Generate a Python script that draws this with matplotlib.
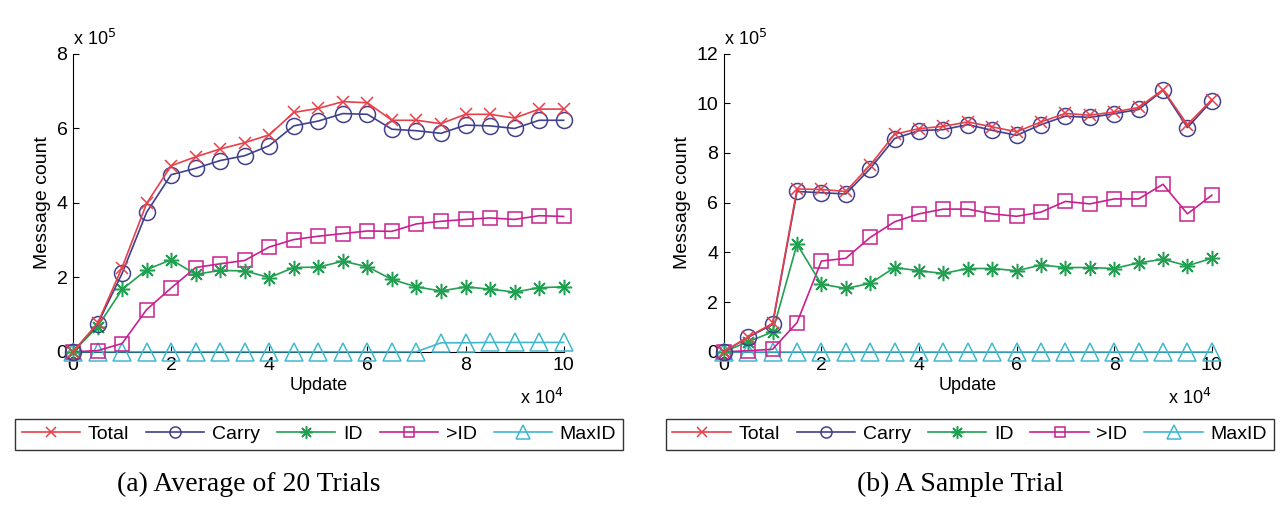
import numpy as np
import matplotlib
matplotlib.use("Agg")
import matplotlib.pyplot as plt

plt.rcParams['font.family'] = ['Liberation Sans', 'DejaVu Sans']

updates = np.arange(0, 10.5, 0.5)  # x 10^4
names = ["Total", "Carry", "ID", ">ID", "MaxID"]

# (a) average of 20 trials, x 10^5
avg_total = [0, 0.76, 2.26, 3.98, 4.99, 5.23, 5.44, 5.61, 5.82, 6.42, 6.53,
             6.71, 6.68, 6.21, 6.21, 6.12, 6.37, 6.37, 6.27, 6.51, 6.51]
avg_carry = [0, 0.74, 2.10, 3.74, 4.75, 4.92, 5.13, 5.26, 5.53, 6.06, 6.19,
             6.39, 6.37, 5.97, 5.93, 5.86, 6.08, 6.06, 5.99, 6.21, 6.21]
avg_id = [0, 0.67, 1.67, 2.20, 2.47, 2.08, 2.18, 2.17, 1.99, 2.26, 2.27,
          2.43, 2.28, 1.94, 1.74, 1.63, 1.74, 1.68, 1.60, 1.72, 1.74]
avg_gtid = [0, 0.03, 0.22, 1.13, 1.71, 2.26, 2.36, 2.45, 2.81, 3.01, 3.10,
            3.17, 3.24, 3.23, 3.43, 3.50, 3.55, 3.59, 3.55, 3.65, 3.63]
avg_maxid = [0, 0, 0, 0, 0, 0, 0, 0, 0, 0, 0,
             0, 0, 0, 0, 0.24, 0.24, 0.25, 0.25, 0.25, 0.25]

# (b) a sample trial, x 10^5
smp_total = [0, 0.60, 1.14, 6.55, 6.53, 6.45, 7.51, 8.75, 8.98, 9.07, 9.25,
             9.05, 8.85, 9.25, 9.59, 9.52, 9.65, 9.83, 10.55, 9.14, 10.15]
smp_carry = [0, 0.58, 1.10, 6.45, 6.40, 6.35, 7.37, 8.58, 8.90, 8.94, 9.14,
             8.91, 8.71, 9.14, 9.48, 9.43, 9.58, 9.75, 10.52, 9.02, 10.10]
smp_id = [0, 0.40, 0.80, 4.33, 2.72, 2.55, 2.75, 3.39, 3.26, 3.15, 3.35,
          3.35, 3.26, 3.49, 3.39, 3.39, 3.35, 3.58, 3.72, 3.46, 3.76]
smp_gtid = [0, 0.04, 0.10, 1.17, 3.65, 3.76, 4.60, 5.23, 5.55, 5.74, 5.74,
            5.55, 5.45, 5.62, 6.05, 5.95, 6.15, 6.15, 6.74, 5.55, 6.30]
smp_maxid = [0] * 21

colors = ["#e8404a", "#40408e", "#20a050", "#c8208e", "#40b8d0"]
markers = ["x", "o", (8, 2, 0), "s", "^"]
msizes = [8, 11.5, 11, 10, 13]
legend_ms = [7, 8, 9, 7, 10]

fig = plt.figure(figsize=(12.81, 5.15), dpi=100)
ax1 = fig.add_axes([0.057, 0.317, 0.383, 0.579])
ax2 = fig.add_axes([0.565, 0.317, 0.381, 0.579])

panels = [
    (ax1, [avg_total, avg_carry, avg_id, avg_gtid, avg_maxid], 8, [0, 2, 4, 6, 8],
     "(a) Average of 20 Trials", 0.0, 0.194),
    (ax2, [smp_total, smp_carry, smp_id, smp_gtid, smp_maxid], 12, [0, 2, 4, 6, 8, 10, 12],
     "(b) A Sample Trial", 0.508, 0.750),
]

for ax, series, ymax, yt, caption, fx, cx in panels:
    handles = []
    # draw back to front so Total sits on top
    for i in reversed(range(5)):
        h, = ax.plot(updates, series[i], color=colors[i], marker=markers[i],
                     markersize=msizes[i], markerfacecolor="none",
                     markeredgecolor=colors[i], markeredgewidth=1.1,
                     linewidth=1.2, label=names[i], zorder=3 + (5 - i),
                     clip_on=False)
        handles.insert(0, h)
    ax.set_xlim(0, 10)
    ax.set_ylim(0, ymax)
    ax.set_xticks([0, 2, 4, 6, 8, 10])
    ax.set_yticks(yt)
    ax.spines['top'].set_visible(False)
    ax.spines['right'].set_visible(False)
    ax.tick_params(direction="in", length=4, labelsize=14, pad=4)
    ax.set_xlabel("Update", fontsize=13, labelpad=2)
    ax.set_ylabel("Message count", fontsize=14, labelpad=4)
    ax.text(0.0, 1.015, r"x 10$^5$", transform=ax.transAxes, fontsize=13,
            ha="left", va="bottom")
    ax.text(1.0, -0.19, r"x 10$^4$", transform=ax.transAxes, fontsize=13,
            ha="right", va="bottom")
    leg = fig.legend(handles=handles, loc="center", ncol=5,
                     bbox_to_anchor=(fx + 0.004, 0.1565, 0.49, 0.0), mode="expand",
                     fontsize=14, frameon=True, fancybox=False, edgecolor="black",
                     numpoints=1, handlelength=3.0, handletextpad=0.4,
                     columnspacing=1.0, borderpad=0.35)
    leg.get_frame().set_linewidth(1.0)
    for lh, ms in zip(leg.legend_handles, legend_ms):
        lh.set_markersize(ms)
    fig.text(cx, 0.06, caption, fontsize=20,
             family="Liberation Serif", ha="center", va="center")

fig.savefig("out.png", dpi=100)
